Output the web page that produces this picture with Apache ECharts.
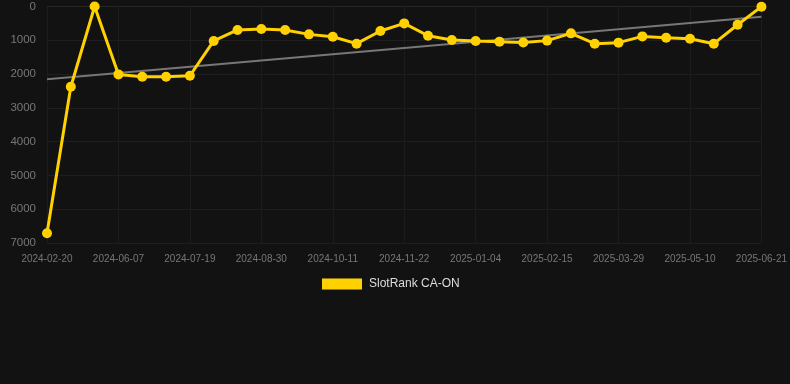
<!DOCTYPE html>
<html>
<head>
<meta charset="utf-8">
<script src="https://cdn.jsdelivr.net/npm/echarts@6/dist/echarts.min.js"></script>
<style>
html,body{margin:0;padding:0;background:#121212;}
#c{width:790px;height:384px;}
</style>
</head>
<body>
<div id="c"></div>
<script>
var categories = ['2024-02-20','2024-05-10','2024-05-24','2024-06-07','2024-06-21','2024-07-05','2024-07-19','2024-08-02','2024-08-16','2024-08-30','2024-09-13','2024-09-27','2024-10-11','2024-10-25','2024-11-08','2024-11-22','2024-12-06','2024-12-20','2025-01-04','2025-01-18','2025-02-01','2025-02-15','2025-03-01','2025-03-15','2025-03-29','2025-04-12','2025-04-26','2025-05-10','2025-05-24','2025-06-07','2025-06-21'];
var rankValues = [6710,2375,1,2010,2080,2080,2050,1020,695,665,695,825,895,1100,725,500,865,990,1020,1040,1065,1010,795,1100,1070,885,925,955,1100,540,5];
var trendStart = 2150;
var trendEnd = 300;
var seriesName = 'SlotRank CA-ON';

var chart = echarts.init(document.getElementById('c'), null, {renderer:'canvas'});
chart.setOption({
  backgroundColor:'#121212',
  animation:false,
  textStyle:{fontFamily:'Liberation Sans, Arial, sans-serif'},
  grid:{left:47,right:28,top:6.5,bottom:141,containLabel:false},
  legend:{
    data:[{name:seriesName,icon:'rect'}],
    top:273,left:317,
    itemWidth:40,itemHeight:11,itemGap:10,
    textStyle:{color:'#dddddd',fontSize:12,padding:[0,0,0,2]}
  },
  xAxis:{
    type:'category',
    data:categories,
    boundaryGap:false,
    axisLine:{show:true,lineStyle:{color:'#262626',width:1}},
    axisTick:{show:false},
    axisLabel:{color:'#777',fontSize:10,interval:2,margin:11},
    splitLine:{show:true,interval:2,lineStyle:{color:'#1c1c1c',width:1}}
  },
  yAxis:{
    type:'value',
    inverse:true,
    min:0,max:7000,interval:1000,
    axisLine:{show:false},
    axisTick:{show:false},
    axisLabel:{color:'#777',fontSize:11.5,margin:11,formatter:function(v){return String(v);}},
    splitLine:{show:true,lineStyle:{color:'#1e1e1e',width:1}}
  },
  series:[
    {
      name:'trend',
      type:'line',
      data:[[categories[0],trendStart],[categories[categories.length-1],trendEnd]],
      showSymbol:false,
      symbol:'none',
      lineStyle:{color:'#777',width:2},
      z:1,
      silent:true
    },
    {
      name:seriesName,
      type:'line',
      data:rankValues,
      symbol:'circle',
      symbolSize:10,
      itemStyle:{color:'#ffd100'},
      lineStyle:{color:'#ffd100',width:3},
      z:3
    }
  ]
});
</script>
</body>
</html>
